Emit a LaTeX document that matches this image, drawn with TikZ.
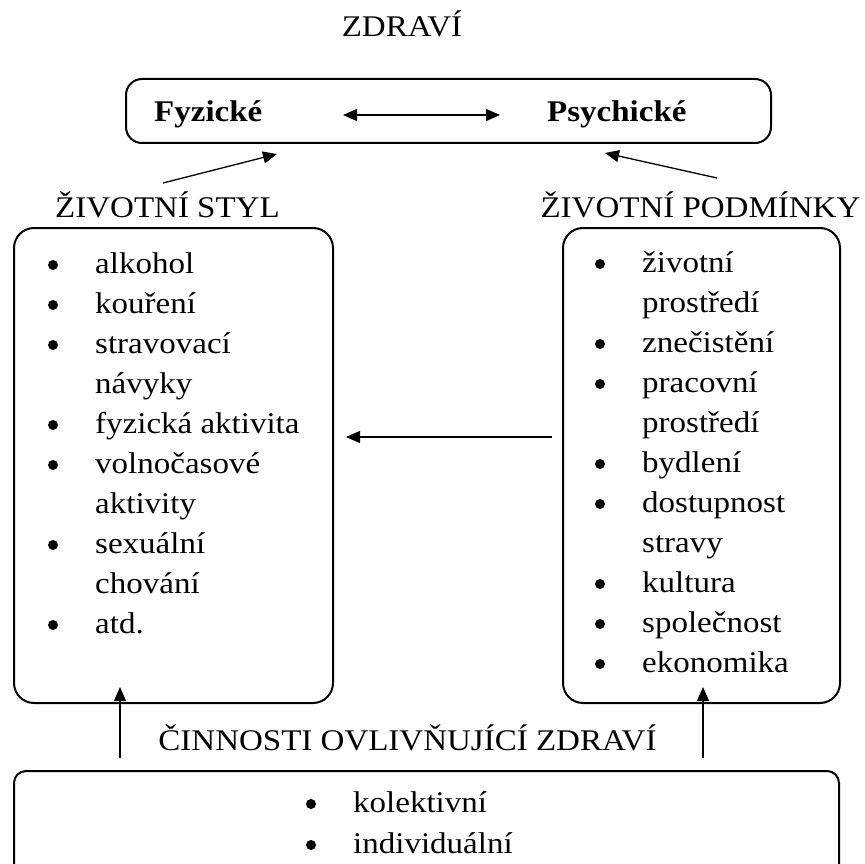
\documentclass[tikz,border=0pt]{standalone}
\usepackage{fontspec}
\setmainfont{Liberation Serif}[FakeStretch=1.1]
\usetikzlibrary{arrows.meta}
\begin{document}
\begin{tikzpicture}[x=1pt,y=-1pt,
  txt/.style={inner sep=0pt, font=\fontsize{30}{34}\selectfont},
  btxt/.style={inner sep=0pt, font=\fontsize{30}{34}\selectfont\bfseries},
  box/.style={draw, line width=2pt, rounded corners=16pt, inner sep=0pt},
  arr/.style={-{Triangle[length=14pt,width=12pt]}, line width=1.3pt},
  dbl/.style={{Triangle[length=14pt,width=12pt]}-{Triangle[length=14pt,width=12pt]}, line width=1.3pt}]
\useasboundingbox (0,0) rectangle (865,864);
\clip (0,0) rectangle (865,864);
\fill[white] (0,0) rectangle (865,864);

% title
\node[txt, anchor=base] (title) at (402,37) {ZDRAVÍ};

% top box
\node[box, minimum width=645pt, minimum height=64pt] (top) at (448.5,111) {};
\node[btxt, anchor=base west] (fyz) at (154,122) {Fyzické};
\node[btxt, anchor=base west] (psy) at (547,122) {Psychické};
\coordinate (d1) at (343,115);
\coordinate (d2) at (500,115);
\draw[dbl] (d1) -- (d2);

% labels
\node[txt, anchor=base] (styl) at (167.5,217) {ŽIVOTNÍ STYL};
\node[txt, anchor=base] (podm) at (700.5,217) {ŽIVOTNÍ PODMÍNKY};
\node[txt, anchor=base] (cinn) at (407.5,750) {ČINNOSTI OVLIVŇUJÍCÍ ZDRAVÍ};

% diagonal arrows
\coordinate (a1s) at (163,183);
\coordinate (a1e) at (277,154);
\draw[arr] (a1s) -- (a1e);
\coordinate (a2s) at (717,178);
\coordinate (a2e) at (605,153);
\draw[arr] (a2s) -- (a2e);

% boxes
\node[box, rounded corners=20pt, minimum width=319pt, minimum height=475pt] (lbox) at (173.5,465.5) {};
\node[box, rounded corners=20pt, minimum width=277pt, minimum height=475pt] (rbox) at (701.5,465.5) {};
\node[box, rounded corners=12pt, minimum width=825pt, minimum height=109pt] (bbox) at (426.5,825.5) {};

% left list
\foreach [count=\i] \yy/\b/\t in {273/1/alkohol, 313/1/kouření, 353/1/stravovací, 393/0/návyky, 433/1/fyzická aktivita, 473/1/volnočasové, 513/0/aktivity, 553/1/sexuální, 593/0/chování, 633/1/atd.} {
  \node[txt, anchor=base west] (L\i) at (95,\yy) {\t};
  \ifnum\b=1 \fill (53,\yy-8) circle (5pt); \fi
}

% right list
\foreach [count=\i] \yy/\b/\t in {272/1/životní, 312/0/prostředí, 352/1/znečistění, 392/1/pracovní, 432/0/prostředí, 472/1/bydlení, 512/1/dostupnost, 552/0/stravy, 592/1/kultura, 632/1/společnost, 672/1/ekonomika} {
  \node[txt, anchor=base west] (R\i) at (642,\yy) {\t};
  \ifnum\b=1 \fill (600,\yy-8) circle (5pt); \fi
}

% bottom list
\node[txt, anchor=base west] (B1) at (353,812) {kolektivní};
\fill (311,804) circle (5pt);
\node[txt, anchor=base west] (B2) at (353,853) {individuální};
\fill (311,845) circle (5pt);

% horizontal arrow
\coordinate (mid) at (450,437);
\draw[arr, shorten <=10pt, shorten >=12pt] (rbox.west |- mid) -- (lbox.east |- mid);

% up arrows
\coordinate (u1s) at (120,758);
\coordinate (u1e) at (120,687);
\draw[arr] (u1s) -- (u1e);
\coordinate (u2s) at (703,758);
\coordinate (u2e) at (703,687);
\draw[arr] (u2s) -- (u2e);
\end{tikzpicture}
\end{document}
